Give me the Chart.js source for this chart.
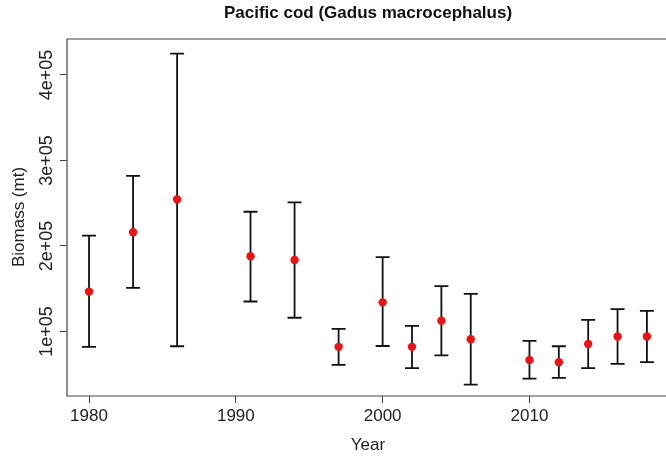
<!DOCTYPE html>
<html>
<head>
<meta charset="utf-8">
<script src="https://cdn.jsdelivr.net/npm/chart.js@4"></script>
<style>
  html, body { margin: 0; padding: 0; background: #fff; }
  #wrap { width: 666px; height: 457px; }
</style>
</head>
<body>
<div id="wrap"><canvas id="chart" width="666" height="457"></canvas></div>
<script>
const years = [1980, 1983, 1986, 1991, 1994, 1997, 2000, 2002, 2004, 2006, 2010, 2012, 2014, 2016, 2018];
const biomass = [146600, 216000, 254500, 188000, 183600, 82000, 134000, 82000, 112600, 90800, 66700, 64000, 85400, 94000, 94000];
const upper = [212000, 282000, 425000, 240000, 251000, 103000, 187000, 106400, 153000, 144000, 89000, 82700, 113500, 126000, 124000];
const lower = [82000, 151000, 82700, 135000, 116000, 61000, 83000, 57000, 72000, 37800, 44800, 45600, 57000, 62000, 64000];

const xTicks = [1980, 1990, 2000, 2010];
const yTicks = [100000, 200000, 300000, 400000];
const yTickLabels = ['1e+05', '2e+05', '3e+05', '4e+05'];

const FONT = 'Liberation Sans, Arial, sans-serif';

// error bars, frame and the R-style rotated texts
const errorBars = {
    id: 'errorBars',
    beforeDatasetsDraw(chart) {
        const ctx = chart.ctx;
        const x = chart.scales.x, y = chart.scales.y;
        ctx.save();
        ctx.strokeStyle = '#111';
        ctx.lineWidth = 1.8;
        years.forEach((yr, i) => {
            const px = x.getPixelForValue(yr);
            const top = y.getPixelForValue(upper[i]);
            const bot = y.getPixelForValue(lower[i]);
            ctx.beginPath();
            ctx.moveTo(px, top); ctx.lineTo(px, bot);
            ctx.moveTo(px - 7, top); ctx.lineTo(px + 7, top);
            ctx.moveTo(px - 7, bot); ctx.lineTo(px + 7, bot);
            ctx.stroke();
        });
        ctx.restore();
    },
    afterDraw(chart) {
        const ctx = chart.ctx;
        const a = chart.chartArea;
        const y = chart.scales.y;
        ctx.save();
        ctx.strokeStyle = '#444';
        ctx.lineWidth = 1.2;
        ctx.beginPath();
        ctx.moveTo(a.right, a.top); ctx.lineTo(a.left, a.top);
        ctx.lineTo(a.left, a.bottom); ctx.lineTo(a.right, a.bottom);
        ctx.stroke();

        ctx.fillStyle = '#222';
        ctx.font = '18px ' + FONT;
        ctx.textAlign = 'center';
        ctx.textBaseline = 'middle';
        yTicks.forEach((v, i) => {
            ctx.save();
            ctx.translate(47, y.getPixelForValue(v));
            ctx.rotate(-Math.PI / 2);
            ctx.fillText(yTickLabels[i], 0, 0);
            ctx.restore();
        });

        ctx.font = '17px ' + FONT;
        ctx.save();
        ctx.translate(19, 217);
        ctx.rotate(-Math.PI / 2);
        ctx.fillText('Biomass (mt)', 0, 0);
        ctx.restore();

        ctx.fillText('Year', 368, 445);

        ctx.font = 'bold 17px ' + FONT;
        ctx.fillStyle = '#111';
        ctx.fillText('Pacific cod (Gadus macrocephalus)', 368, 13);
        ctx.restore();
    }
};

new Chart(document.getElementById('chart'), {
    type: 'scatter',
    data: {
        datasets: [{
            data: years.map((yr, i) => ({ x: yr, y: biomass[i] })),
            backgroundColor: '#ee1111',
            borderWidth: 0,
            pointRadius: 4.2,
            pointHoverRadius: 4.2
        }]
    },
    options: {
        responsive: false,
        animation: false,
        layout: { autoPadding: false, padding: { top: 39, right: 0, left: 0, bottom: 0 } },
        plugins: { legend: { display: false }, tooltip: { enabled: false } },
        scales: {
            x: {
                type: 'linear',
                min: 1978.5,
                max: 2019.3,
                afterBuildTicks: s => { s.ticks = xTicks.map(v => ({ value: v })); },
                afterFit: s => { s.height = 61; },
                grid: { drawOnChartArea: false, drawTicks: true, tickLength: 7, color: '#444' },
                border: { display: false },
                ticks: {
                    color: '#222',
                    font: { family: FONT, size: 17 },
                    padding: 3,
                    maxRotation: 0,
                    callback: v => String(v)
                }
            },
            y: {
                min: 24500,
                max: 442000,
                afterBuildTicks: s => { s.ticks = yTicks.map(v => ({ value: v })); },
                afterFit: s => { s.width = 67; },
                grid: { drawOnChartArea: false, drawTicks: true, tickLength: 7, color: '#444' },
                border: { display: false },
                ticks: { display: false }
            }
        }
    },
    plugins: [errorBars]
});
</script>
</body>
</html>
